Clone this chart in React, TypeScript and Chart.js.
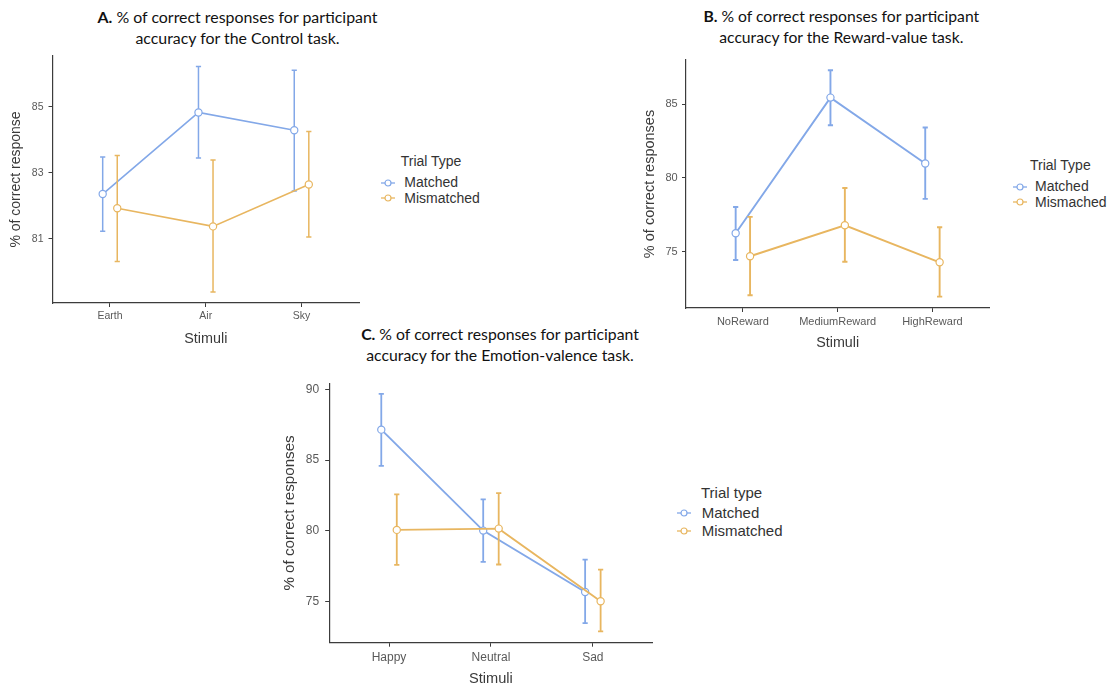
import React, { useEffect, useRef } from 'react';
import { Chart, registerables } from 'chart.js';

Chart.register(...registerables);

// ---------- DATA ----------
const stimuliA = ['Earth', 'Air', 'Sky'];
const matchedA = [82.36, 84.83, 84.29];
const matchedALo = [81.23, 83.45, 82.45];
const matchedAHi = [83.48, 86.22, 86.11];
const mismatchedA = [81.93, 81.38, 82.65];
const mismatchedALo = [80.32, 79.39, 81.06];
const mismatchedAHi = [83.53, 83.39, 84.25];
const yTicksA = [81, 83, 85];

const stimuliB = ['NoReward', 'MediumReward', 'HighReward'];
const matchedB = [76.25, 85.45, 80.98];
const matchedBLo = [74.44, 83.57, 78.58];
const matchedBHi = [78.03, 87.3, 83.42];
const mismatchedB = [74.69, 76.79, 74.28];
const mismatchedBLo = [72.04, 74.32, 71.95];
const mismatchedBHi = [77.36, 79.32, 76.66];
const yTicksB = [75, 80, 85];

const stimuliC = ['Happy', 'Neutral', 'Sad'];
const matchedC = [87.15, 80.0, 75.65];
const matchedCLo = [84.58, 77.79, 73.44];
const matchedCHi = [89.69, 82.21, 77.94];
const mismatchedC = [80.05, 80.14, 75.0];
const mismatchedCLo = [77.57, 77.6, 72.86];
const mismatchedCHi = [82.56, 82.66, 77.24];
const yTicksC = [75, 80, 85, 90];

const seriesLabelsA = ['Matched', 'Mismatched'];
const seriesLabelsB = ['Matched', 'Mismached'];
const seriesLabelsC = ['Matched', 'Mismatched'];

// ---------- STYLE ----------
const BLUE = '#83A8E8';
const ORANGE = '#E8B660';
const AXIS = '#3c3c3c';
const TICK_TXT = '#595959';
const TITLE_TXT = '#3a3a3a';
const SANS = '"Liberation Sans", Arial, Helvetica, sans-serif';
const DODGE = 0.076;

const errorBarPlugin = {
  id: 'errorBars',
  beforeDatasetDraw(chart: any, args: any) {
    const ds: any = chart.data.datasets[args.index];
    if (!ds.errLo) return;
    const { ctx } = chart;
    const xs = chart.scales.x;
    const ys = chart.scales.y;
    const cap = ds.errCap;
    ctx.save();
    ctx.strokeStyle = ds.borderColor;
    ctx.lineWidth = ds.errWidth;
    ds.data.forEach((pt: any, i: number) => {
      const px = xs.getPixelForValue(pt.x);
      const yl = ys.getPixelForValue(ds.errLo[i]);
      const yh = ys.getPixelForValue(ds.errHi[i]);
      ctx.beginPath();
      ctx.moveTo(px, yl);
      ctx.lineTo(px, yh);
      ctx.moveTo(px - cap, yl);
      ctx.lineTo(px + cap, yl);
      ctx.moveTo(px - cap, yh);
      ctx.lineTo(px + cap, yh);
      ctx.stroke();
    });
    ctx.restore();
  },
};

type Spec = {
  left: number; top: number; w: number; h: number;
  yW: number; xH: number; padTop: number; padRight: number;
  xMin: number; xMax: number; yMin: number; yMax: number;
  cats: string[]; yTicks: number[];
  matched: number[]; matchedLo: number[]; matchedHi: number[];
  mismatched: number[]; mismatchedLo: number[]; mismatchedHi: number[];
  labels: string[];
  tickFont: number; yTitle: string; yTitleFont: number; yTitlePad: number;
  xTitleFont: number; xTitlePad: number; lineWidth: number; errWidth: number;
  yLabelPad: number; xLabelPad: number;
};

function buildConfig(p: Spec): any {
  const mk = (vals: number[], off: number) => vals.map((v, i) => ({ x: i + off, y: v }));
  const ds = (label: string, data: any[], lo: number[], hi: number[], color: string, order: number) => ({
    label,
    data,
    errLo: lo,
    errHi: hi,
    errCap: 2.6,
    errWidth: p.errWidth,
    order,
    borderColor: color,
    backgroundColor: '#ffffff',
    borderWidth: p.lineWidth,
    pointBackgroundColor: '#ffffff',
    pointBorderColor: color,
    pointBorderWidth: 1.2,
    pointRadius: 3.6,
    tension: 0,
    fill: false,
  });
  const gridCfg = { display: true, drawOnChartArea: false, drawTicks: true, tickLength: 4, color: AXIS, tickWidth: 1 };
  const borderCfg = { display: true, color: AXIS, width: 1.2 };
  return {
    type: 'line',
    data: {
      datasets: [
        ds(p.labels[0], mk(p.matched, -DODGE), p.matchedLo, p.matchedHi, BLUE, 1),
        ds(p.labels[1], mk(p.mismatched, DODGE), p.mismatchedLo, p.mismatchedHi, ORANGE, 0),
      ],
    },
    options: {
      responsive: false,
      maintainAspectRatio: false,
      animation: false,
      layout: { padding: { left: 0, top: p.padTop, right: p.padRight, bottom: 0 } },
      plugins: { legend: { display: false }, tooltip: { enabled: false }, title: { display: false } },
      scales: {
        x: {
          type: 'linear',
          min: p.xMin,
          max: p.xMax,
          afterBuildTicks: (s: any) => { s.ticks = p.cats.map((_, i) => ({ value: i })); },
          afterFit: (s: any) => { s.height = p.xH; },
          ticks: {
            callback: (v: any) => p.cats[Math.round(Number(v))],
            font: { family: SANS, size: p.tickFont },
            color: TICK_TXT,
            padding: p.xLabelPad,
            maxRotation: 0,
            autoSkip: false,
          },
          grid: gridCfg,
          border: borderCfg,
          title: {
            display: true,
            text: 'Stimuli',
            font: { family: SANS, size: p.xTitleFont },
            color: TITLE_TXT,
            padding: { top: 0, bottom: p.xTitlePad },
          },
        },
        y: {
          type: 'linear',
          min: p.yMin,
          max: p.yMax,
          afterBuildTicks: (s: any) => { s.ticks = p.yTicks.map((v) => ({ value: v })); },
          afterFit: (s: any) => { s.width = p.yW; },
          ticks: {
            font: { family: SANS, size: p.tickFont },
            color: TICK_TXT,
            padding: p.yLabelPad,
          },
          grid: gridCfg,
          border: borderCfg,
          title: {
            display: true,
            text: p.yTitle,
            font: { family: SANS, size: p.yTitleFont },
            color: TITLE_TXT,
            padding: { top: p.yTitlePad, bottom: 0 },
          },
        },
      },
    },
    plugins: [errorBarPlugin],
  };
}

function Panel({ spec }: { spec: Spec }) {
  const ref = useRef<HTMLCanvasElement>(null);
  useEffect(() => {
    const chart = new Chart(ref.current as HTMLCanvasElement, buildConfig(spec));
    return () => chart.destroy();
  }, []);
  return (
    <canvas
      ref={ref}
      width={spec.w}
      height={spec.h}
      style={{ position: 'absolute', left: spec.left, top: spec.top, width: spec.w, height: spec.h }}
    />
  );
}

function Title({ letter, line2, cx, y1, size }: { letter: string; line2: string; cx: number; y1: number; size: number }) {
  const lh = 21;
  return (
    <div
      style={{
        position: 'absolute', left: cx - 250, width: 500, top: y1 - lh / 2, textAlign: 'center',
        fontFamily: 'Lato, "Open Sans", sans-serif', fontSize: size, lineHeight: lh + 'px', color: '#111',
        whiteSpace: 'nowrap',
      }}
    >
      <div><b>{letter}</b> % of correct responses for participant</div>
      <div>{line2}</div>
    </div>
  );
}

function Sym({ color, cx, cy }: { color: string; cx: number; cy: number }) {
  return (
    <svg width={16} height={10} style={{ position: 'absolute', left: cx - 8, top: cy - 5 }}>
      <line x1={1} y1={5} x2={15} y2={5} stroke={color} strokeWidth={1.3} />
      <circle cx={8} cy={5} r={3} fill="#fff" stroke={color} strokeWidth={1.2} />
    </svg>
  );
}

function Legend({ title, labels, titleX, titleY, symX, textX, rows, size }:
  { title: string; labels: string[]; titleX: number; titleY: number; symX: number; textX: number; rows: number[]; size: number }) {
  const txt = (s: string, x: number, y: number) => (
    <div style={{ position: 'absolute', left: x, top: y - size * 0.6, fontFamily: SANS, fontSize: size, lineHeight: size * 1.2 + 'px', color: '#333', whiteSpace: 'nowrap' }}>{s}</div>
  );
  return (
    <>
      {txt(title, titleX, titleY)}
      <Sym color={BLUE} cx={symX} cy={rows[0]} />
      {txt(labels[0], textX, rows[0])}
      <Sym color={ORANGE} cx={symX} cy={rows[1]} />
      {txt(labels[1], textX, rows[1])}
    </>
  );
}

const specA: Spec = {
  left: 0, top: 40, w: 370, h: 310,
  yW: 52.5, xH: 47, padTop: 16, padRight: 11,
  xMin: -0.6, xMax: 2.6, yMin: 79.06, yMax: 86.54,
  cats: stimuliA, yTicks: yTicksA,
  matched: matchedA, matchedLo: matchedALo, matchedHi: matchedAHi,
  mismatched: mismatchedA, mismatchedLo: mismatchedALo, mismatchedHi: mismatchedAHi,
  labels: seriesLabelsA,
  tickFont: 10.5, yTitle: '% of correct response', yTitleFont: 14, yTitlePad: 7.6,
  xTitleFont: 14.4, xTitlePad: 2, lineWidth: 1.6, errWidth: 1.5, yLabelPad: 5, xLabelPad: 3,
};

const specB: Spec = {
  left: 630, top: 40, w: 380, h: 320,
  yW: 56, xH: 52, padTop: 20, padRight: 20.7,
  xMin: -0.6, xMax: 2.6, yMin: 71.18, yMax: 88.0,
  cats: stimuliB, yTicks: yTicksB,
  matched: matchedB, matchedLo: matchedBLo, matchedHi: matchedBHi,
  mismatched: mismatchedB, mismatchedLo: mismatchedBLo, mismatchedHi: mismatchedBHi,
  labels: seriesLabelsB,
  tickFont: 11, yTitle: '% of correct responses', yTitleFont: 14.5, yTitlePad: 11.3,
  xTitleFont: 14.3, xTitlePad: 8, lineWidth: 1.9, errWidth: 1.9, yLabelPad: 4.3, xLabelPad: 3.7,
};

const specC: Spec = {
  left: 270, top: 370, w: 400, h: 318,
  yW: 59.2, xH: 45.3, padTop: 10, padRight: 17.3,
  xMin: -0.587, xMax: 2.587, yMin: 72.06, yMax: 90.44,
  cats: stimuliC, yTicks: yTicksC,
  matched: matchedC, matchedLo: matchedCLo, matchedHi: matchedCHi,
  mismatched: mismatchedC, mismatchedLo: mismatchedCLo, mismatchedHi: mismatchedCHi,
  labels: seriesLabelsC,
  tickFont: 12, yTitle: '% of correct responses', yTitleFont: 15.2, yTitlePad: 11,
  xTitleFont: 14.6, xTitlePad: 0, lineWidth: 1.9, errWidth: 1.8, yLabelPad: 6, xLabelPad: 4,
};

export default function App() {
  return (
    <div style={{ position: 'absolute', left: 0, top: 0, width: 1111, height: 688, background: '#fff', overflow: 'hidden' }}>
      <Title letter="A." line2="accuracy for the Control task." cx={237.5} y1={16.7} size={15.9} />
      <Title letter="B." line2="accuracy for the Reward-value task." cx={841.3} y1={16.7} size={15.7} />
      <Title letter="C." line2="accuracy for the Emotion-valence task." cx={500} y1={333.3} size={15.8} />
      <Panel spec={specA} />
      <Panel spec={specB} />
      <Panel spec={specC} />
      <Legend title="Trial Type" labels={seriesLabelsA} titleX={400.7} titleY={161} symX={388} textX={404.3} rows={[182.7, 198]} size={14} />
      <Legend title="Trial Type" labels={seriesLabelsB} titleX={1030} titleY={165.7} symX={1019.5} textX={1035} rows={[186.7, 202.3]} size={14} />
      <Legend title="Trial type" labels={seriesLabelsC} titleX={701} titleY={492.7} symX={684} textX={701.7} rows={[513.3, 530.7]} size={15} />
    </div>
  );
}
